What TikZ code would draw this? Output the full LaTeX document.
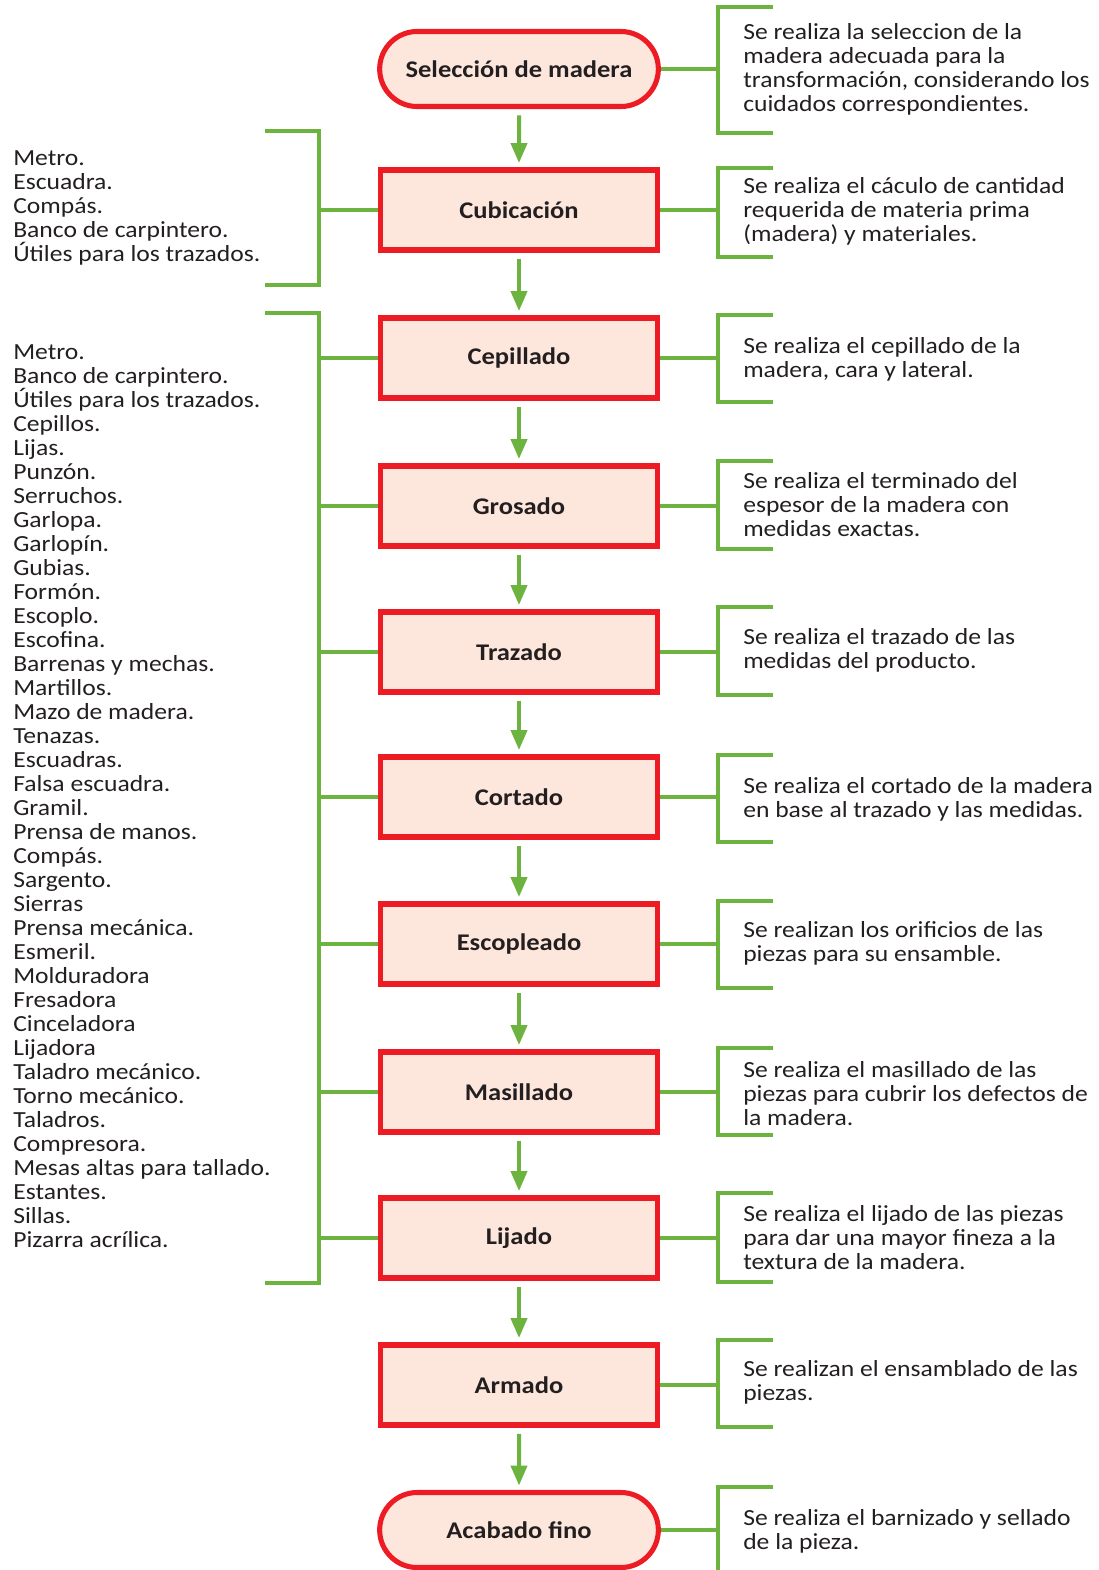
\documentclass[tikz,border=0pt]{standalone}
\usepackage{fontspec}
\setmainfont{Carlito}[FakeStretch=1.11]
\usetikzlibrary{arrows.meta}
\usetikzlibrary{shapes.misc}

\definecolor{boxred}{HTML}{ED1C24}
\definecolor{boxfill}{HTML}{FDE7DD}
\definecolor{linegreen}{HTML}{6DB33F}
\definecolor{inkgray}{HTML}{231F20}

\tikzset{
  stepbox/.style={draw=boxred, fill=boxfill, line width=3.6pt,
    minimum width=6.925cm, minimum height=2cm, text=inkgray,
    font=\bfseries\fontsize{17}{17}\selectfont},
  endbox/.style={stepbox, rounded rectangle, minimum width=7.2cm, minimum height=1.875cm},
  note/.style={anchor=west, align=left, inner sep=0pt, text=inkgray,
    font=\fontsize{16.4}{17.07}\selectfont},
  link/.style={draw=linegreen, line width=2.85pt},
  flow/.style={link, -{Triangle[width=0.4cm,length=0.5cm]},
    shorten <=0.16cm, shorten >=0.11cm},
}

\begin{document}
\begin{tikzpicture}[x=0.025cm,y=-0.025cm]
\useasboundingbox (0,0) rectangle (1098,1570);

\node[endbox] (sel) at (519,69) {Selección de madera};
\node[stepbox] (cub) at (519,210) {Cubicación};
\node[stepbox] (cep) at (519,358) {Cepillado};
\node[stepbox] (gro) at (519,506) {Grosado};
\node[stepbox] (tra) at (519,652) {Trazado};
\node[stepbox] (cor) at (519,797) {Cortado};
\node[stepbox] (esc) at (519,944) {Escopleado};
\node[stepbox] (mas) at (519,1092) {Masillado};
\node[stepbox] (lij) at (519,1238) {Lijado};
\node[stepbox] (arm) at (519,1385) {Armado};
\node[endbox] (aca) at (519,1530) {Acabado fino};

\foreach \a/\b in {sel/cub,cub/cep,cep/gro,gro/tra,tra/cor,cor/esc,esc/mas,mas/lij,lij/arm,arm/aca}
  \draw[flow] (\a) -- (\b);

\node[note] (selnote) at (743,69) {Se realiza la seleccion de la\\madera adecuada para la\\transformación, considerando los\\cuidados correspondientes.};
\node[note] (cubnote) at (743,211) {Se realiza el cáculo de cantidad\\requerida de materia prima\\(madera) y materiales.};
\node[note] (cepnote) at (743,359) {Se realiza el cepillado de la\\madera, cara y lateral.};
\node[note] (gronote) at (743,505) {Se realiza el terminado del\\espesor de la madera con\\medidas exactas.};
\node[note] (tranote) at (743,650) {Se realiza el trazado de las\\medidas del producto.};
\node[note] (cornote) at (743,799) {Se realiza el cortado de la madera\\en base al trazado y las medidas.};
\node[note] (escnote) at (743,943) {Se realizan los orificios de las\\piezas para su ensamble.};
\node[note] (masnote) at (743,1094) {Se realiza el masillado de las\\piezas para cubrir los defectos de\\la madera.};
\node[note] (lijnote) at (743,1238) {Se realiza el lijado de las piezas\\para dar una mayor fineza a la\\textura de la madera.};
\node[note] (armnote) at (743,1382) {Se realizan el ensamblado de las\\piezas.};
\node[note] (acanote) at (743,1531) {Se realiza el barnizado y sellado\\de la pieza.};

\coordinate (rb) at (718,0);
\foreach \s/\t/\b in {sel/7/133,cub/168/257,cep/315/402,gro/461/549,tra/607/695,cor/755/842,esc/901/988,mas/1048/1135,lij/1193/1282,arm/1340/1427,aca/1487/1590}
{
  \draw[link] (\s.east) -- (\s.east -| rb);
  \draw[link] (773,\t) -- (718,\t) -- (718,\b) -- (773,\b);
}

\node[note] (tools1) at (13,208) {Metro.\\Escuadra.\\Compás.\\Banco de carpintero.\\Útiles para los trazados.};
\node[note] (tools2) at (13,796) {Metro.\\Banco de carpintero.\\Útiles para los trazados.\\Cepillos.\\Lijas.\\Punzón.\\Serruchos.\\Garlopa.\\Garlopín.\\Gubias.\\Formón.\\Escoplo.\\Escofina.\\Barrenas y mechas.\\Martillos.\\Mazo de madera.\\Tenazas.\\Escuadras.\\Falsa escuadra.\\Gramil.\\Prensa de manos.\\Compás.\\Sargento.\\Sierras\\Prensa mecánica.\\Esmeril.\\Molduradora\\Fresadora\\Cinceladora\\Lijadora\\Taladro mecánico.\\Torno mecánico.\\Taladros.\\Compresora.\\Mesas altas para tallado.\\Estantes.\\Sillas.\\Pizarra acrílica.};

\coordinate (lb) at (319,0);
\draw[link] (265,131) -- (319,131) -- (319,285) -- (265,285);
\draw[link] (265,313) -- (319,313) -- (319,1283) -- (265,1283);
\foreach \s in {cub,cep,gro,tra,cor,esc,mas,lij}
  \draw[link] (\s.west) -- (\s.west -| lb);
\end{tikzpicture}
\end{document}
